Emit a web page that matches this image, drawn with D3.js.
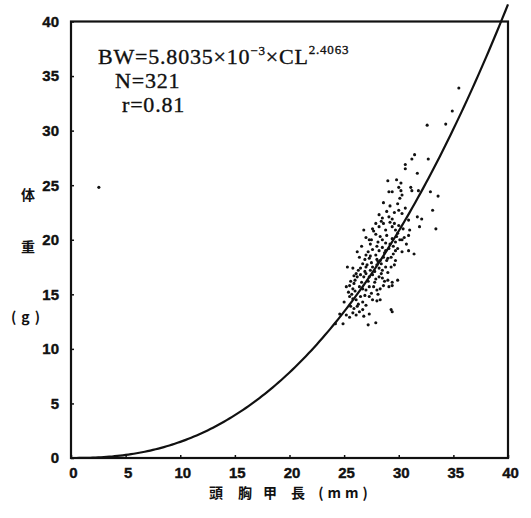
<!DOCTYPE html>
<html><head><meta charset="utf-8">
<script src="https://cdn.jsdelivr.net/npm/d3@7"></script>
<style>
html,body{margin:0;padding:0;background:#fff;}
svg{display:block;}
</style></head>
<body>
<svg id="chart" width="531" height="518"></svg>
<script>
// ---- data ----
const xTicks = [0,5,10,15,20,25,30,35,40];
const yTicks = [0,5,10,15,20,25,30,35,40];
const coefA = 5.8035e-3;
const coefB = 2.4063;
const eqText = ["BW=5.8035×10", "−3", "×CL", "2.4063"];
const nText = "N=321";
const rText = "r=0.81";
const xTitle = ["頭","胸","甲","長","(mm)"];
const yTitle = ["体","重","(g)"];
// carapace length (mm)
const CL = [31.45,31.2,30.6,30.6,32.7,31.7,29.0,29.8,30.2,29.1,29.4,30.0,30.2,30.3,30.1,31.1,31.2,31.8,32.9,33.6,
28.6,29.2,29.6,30.0,30.3,28.2,28.5,29.1,29.4,30.9,31.7,32.1,33.1,31.9,33.4,27.9,28.2,28.6,28.8,29.4,
29.7,29.9,26.8,27.7,27.9,27.0,27.3,27.5,28.3,28.5,28.8,29.4,29.7,30.1,30.3,30.9,28.0,28.2,28.5,28.8,
29.1,29.5,29.7,30.9,31.4,26.4,27.0,27.3,27.4,27.9,28.0,28.3,28.6,29.0,29.3,29.7,25.3,25.8,26.7,27.0,
27.1,27.4,27.6,28.0,28.2,28.5,28.8,29.3,26.1,26.2,26.5,26.8,27.0,27.3,27.6,27.9,28.2,28.5,29.0,29.4,
29.9,25.2,25.5,25.8,25.9,26.4,26.7,27.0,27.3,27.7,28.0,28.3,28.6,29.1,29.4,25.5,25.8,26.1,26.5,26.7,
27.3,27.6,28.0,28.3,25.6,25.9,26.2,26.7,29.3,29.4,25.2,25.5,25.8,26.1,26.8,27.3,24.2,24.9,27.2,27.9,
35.5,34.9,34.3,32.6,
26.0,26.3,26.6,26.9,27.2,27.5,27.8,28.1,28.4,28.7,28.9,29.2,29.5,29.8,30.0,30.4,28.1,27.6,27.2,26.9,
26.5,25.9,25.6,25.4,25.7,26.0,26.3,26.9,27.5,27.8,28.4,28.7,29.0,29.6,28.9,29.2,29.6,30.6,29.9,28.9,
28.4,27.6,27.4,26.6,26.2,30.5,31.0,30.7,29.9,30.3,28.1,27.0,26.4,25.0,24.6,
2.55];
// body weight (g)
const BW = [27.8,27.4,26.9,26.5,27.4,26.1,25.4,25.5,25.2,24.4,24.4,24.8,24.5,24.1,23.8,24.8,24.5,24.5,24.4,24.0,
23.4,23.1,22.5,22.7,22.4,22.3,22.0,22.1,21.9,21.8,22.1,21.9,22.7,21.2,21.0,21.5,21.2,21.5,20.9,21.2,
20.9,20.6,20.9,20.8,20.5,20.2,20.0,20.0,20.3,20.0,19.7,20.1,19.8,20.0,20.0,20.4,19.4,19.0,19.3,19.0,
19.2,18.7,19.0,19.0,18.7,18.4,18.6,18.3,18.5,18.6,18.2,18.1,18.4,18.3,18.4,18.1,17.5,17.4,17.8,17.5,
17.7,17.2,17.5,17.7,17.4,17.2,17.5,17.5,16.9,16.6,16.8,16.6,16.9,16.6,16.8,16.4,16.6,16.5,16.3,16.1,
16.3,15.7,15.8,15.5,16.0,15.7,15.5,15.4,15.7,15.7,15.4,15.5,15.8,15.7,15.8,14.8,14.6,14.5,14.8,14.3,
14.8,14.5,14.4,14.5,13.9,13.7,13.9,13.6,13.6,13.4,13.1,12.9,13.3,13.1,13.0,13.2,12.3,12.3,12.2,12.4,
33.9,31.8,30.6,30.5,
16.3,17.2,16.1,17.1,16.2,17.9,17.1,18.0,17.8,18.8,18.1,19.6,19.4,20.3,21.3,21.0,19.8,19.1,18.9,18.2,
17.4,16.7,16.2,15.2,15.0,15.3,14.1,14.9,15.1,16.1,16.9,16.2,17.0,17.7,20.4,21.6,21.5,22.9,23.3,22.6,
21.7,21.0,19.6,19.4,18.9,20.2,20.9,19.6,19.2,18.9,15.0,14.0,13.4,14.3,13.2,
24.8];

// ---- chart ----
const svg = d3.select("#chart");
const x = d3.scaleLinear().domain([0,40]).range([71,508]);
const y = d3.scaleLinear().domain([0,40]).range([458,21.5]);
const ink = "#111";

// frame
svg.append("rect")
  .attr("x", x(0)).attr("y", y(40))
  .attr("width", x(40)-x(0)).attr("height", y(0)-y(40))
  .attr("fill","none").attr("stroke",ink).attr("stroke-width",2.2);

const tickFont = "bold 15px 'Liberation Sans', Arial, sans-serif";
const xAxis = svg.append("g").attr("transform",`translate(0,${y(0)})`)
  .call(d3.axisBottom(x).tickValues(xTicks).tickSize(-3).tickPadding(9).tickFormat(d3.format("d")));
const yAxis = svg.append("g").attr("transform",`translate(${x(0)},0)`)
  .call(d3.axisLeft(y).tickValues(yTicks).tickSize(-3).tickPadding(12).tickFormat(d3.format("d")));
[xAxis,yAxis].forEach(g=>{
  g.select(".domain").remove();
  g.selectAll(".tick line").attr("stroke",ink).attr("stroke-width",1.5);
  g.selectAll(".tick text").style("font",tickFont).attr("fill",ink)
    .attr("stroke",ink).attr("stroke-width",0.4);
});
xAxis.selectAll(".tick text").attr("dx",2);

// curve
const curvePts = d3.range(0, 40.01, 0.25).map(c=>[c, coefA*Math.pow(c,coefB)]);
svg.append("path").datum(curvePts)
  .attr("d", d3.line().x(d=>x(d[0])).y(d=>y(d[1])))
  .attr("fill","none").attr("stroke",ink).attr("stroke-width",2.2);

// points
svg.append("g").selectAll("circle").data(CL.map((c,i)=>[c,BW[i]]))
  .join("circle").attr("cx",d=>x(d[0])).attr("cy",d=>y(d[1])).attr("r",1.55).attr("fill",ink);

// equation text
const serif = "'Liberation Serif','Times New Roman',serif";
const eq = svg.append("text").attr("x",98).attr("y",63.5)
  .style("font-family",serif).style("font-size","22px").attr("fill",ink)
  .attr("letter-spacing","0.8px").attr("stroke",ink).attr("stroke-width",0.35);
eq.append("tspan").text(eqText[0]);
eq.append("tspan").attr("dy",-9).style("font-size","13px").text(eqText[1]);
eq.append("tspan").attr("dy",9).text(eqText[2]);
eq.append("tspan").attr("dy",-10).style("font-size","13px").text(eqText[3]);
svg.append("text").attr("x",115).attr("y",87.5).style("font-family",serif).style("font-size","22px")
  .attr("letter-spacing","0.8px").attr("stroke",ink).attr("stroke-width",0.35).attr("fill",ink).text(nText);
svg.append("text").attr("x",122).attr("y",112).style("font-family",serif).style("font-size","22px")
  .attr("letter-spacing","0.8px").attr("stroke",ink).attr("stroke-width",0.35).attr("fill",ink).text(rText);

// axis titles
const titleFont = "bold 14px 'Noto Sans CJK JP', sans-serif";
const xtPos = [216, 245, 270, 298, 345];
xTitle.forEach((t,i)=>{
  svg.append("text").attr("x",xtPos[i]).attr("y",498).attr("text-anchor","middle")
    .style("font",titleFont).attr("letter-spacing", i===4 ? "4px":"0").attr("fill",ink).text(t);
});
const ytPos = [200, 252, 322];
yTitle.forEach((t,i)=>{
  svg.append("text").attr("x",28).attr("y",ytPos[i]).attr("text-anchor","middle")
    .style("font",titleFont).attr("letter-spacing", i===2 ? "5px":"0").attr("fill",ink).text(t);
});
</script>
</body></html>
